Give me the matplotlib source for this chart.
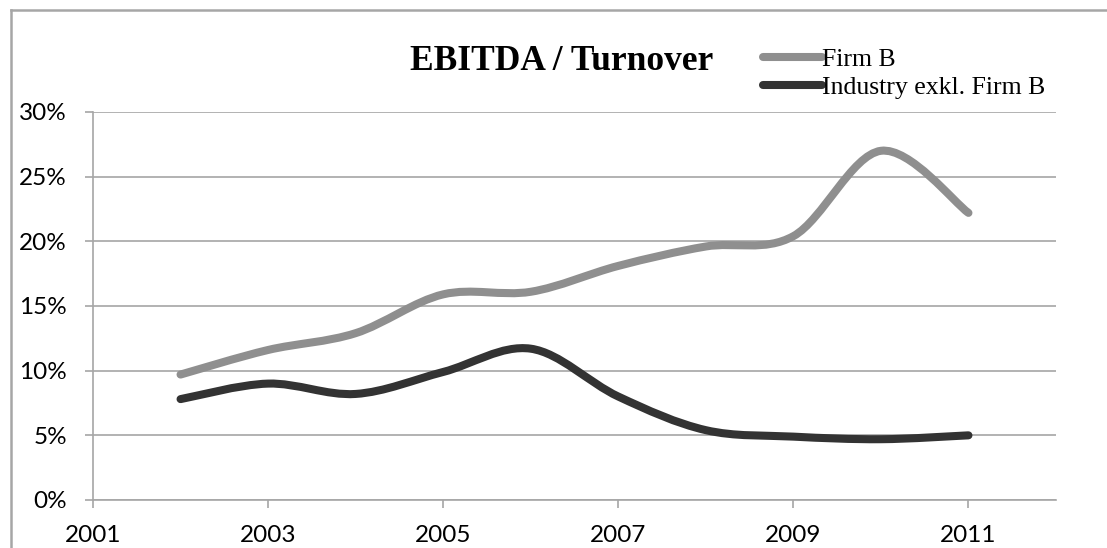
import numpy as np
import matplotlib
matplotlib.use("Agg")
from matplotlib import pyplot as plt
from matplotlib.path import Path
from matplotlib.patches import PathPatch
from matplotlib.lines import Line2D

years = [2002, 2003, 2004, 2005, 2006, 2007, 2008, 2009, 2010, 2011]
firm_b = [9.7, 11.6, 12.9, 15.9, 16.1, 18.1, 19.6, 20.4, 27.0, 22.2]
industry = [7.8, 9.0, 8.2, 9.9, 11.7, 8.0, 5.4, 4.9, 4.7, 5.0]
series_names = ["Firm B", "Industry exkl. Firm B"]
series_colors = ["#8f8f8f", "#333333"]
ytick_vals = [0, 5, 10, 15, 20, 25, 30]
xtick_vals = [2001, 2003, 2005, 2007, 2009, 2011]


def smooth_path(xs, ys):
    # excel-style smoothed line: cubic bezier through the points
    p = np.column_stack([xs, np.array(ys) / 100.0])
    n = len(p)
    verts = [p[0]]
    codes = [Path.MOVETO]
    for i in range(n - 1):
        p0 = p[max(i - 1, 0)]
        p1 = p[i]
        p2 = p[i + 1]
        p3 = p[min(i + 2, n - 1)]
        c1 = p1 + (p2 - p0) / 6.0
        c2 = p2 - (p3 - p1) / 6.0
        verts += [c1, c2, p2]
        codes += [Path.CURVE4] * 3
    return Path(verts, codes)


fig = plt.figure(figsize=(11.07, 5.48), dpi=100)
W, H = 1107, 548
ax = fig.add_axes([93 / W, 1 - 500 / H, (1056 - 93) / W, (500 - 112) / H])

for ys, col in zip([firm_b, industry], series_colors):
    ax.add_patch(PathPatch(smooth_path(years, ys), facecolor="none", edgecolor=col,
                           lw=5.8, capstyle="round", joinstyle="round", zorder=3))

ax.set_xlim(2001, 2012)
ax.set_ylim(0, 0.30)
ax.set_xticks(xtick_vals)
ax.set_yticks([v / 100 for v in ytick_vals])
ax.set_yticklabels(["%d%%" % v for v in ytick_vals])
ax.yaxis.grid(True, color="#a6a6a6", lw=1.2)
ax.set_axisbelow(True)
for s in ["top", "right"]:
    ax.spines[s].set_visible(False)
for s in ["left", "bottom"]:
    ax.spines[s].set_color("#a6a6a6")
    ax.spines[s].set_linewidth(1.2)
ax.tick_params(colors="#a6a6a6", labelcolor="black", length=5.8, width=1.2,
               labelsize=17.5)
ax.tick_params(axis="y", pad=13)
ax.tick_params(axis="x", pad=12)
for lab in ax.get_xticklabels() + ax.get_yticklabels():
    lab.set_family(["Lato", "DejaVu Sans"])

fig.text(562 / W, 1 - 62 / H, "EBITDA / Turnover", ha="center", va="center",
         fontsize=25.5, fontweight="bold", family="Liberation Serif")

handles = [Line2D([], [], color=c, lw=5.8, solid_capstyle="round") for c in series_colors]
leg = fig.legend(handles, series_names, loc="upper left",
                 bbox_to_anchor=(763 / W, 1 - 48 / H), frameon=False,
                 prop={"family": "Liberation Serif", "size": 18.5},
                 handlelength=2.3, handletextpad=0.0, labelspacing=0.2,
                 borderpad=0, borderaxespad=0)

# chart area border (top and left only visible)
fig.add_artist(Line2D([11 / W, 1.0], [1 - 10 / H, 1 - 10 / H], color="#a6a6a6", lw=1.8))
fig.add_artist(Line2D([11 / W, 11 / W], [0, 1 - 10 / H], color="#a6a6a6", lw=1.8))

fig.savefig("out.png", dpi=100)
